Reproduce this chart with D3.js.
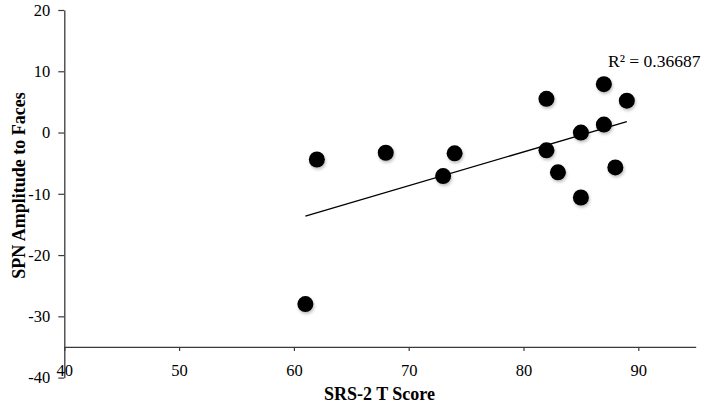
<!DOCTYPE html>
<html>
<head>
<meta charset="utf-8">
<script src="https://cdn.jsdelivr.net/npm/d3@7"></script>
<style>
  html, body { margin: 0; padding: 0; background: #fff; }
  svg { display: block; }
</style>
</head>
<body>
<svg id="chart" width="707" height="405"></svg>
<script>
// ---- Data ----
const srsScores = [61, 62, 68, 73, 74, 82, 82, 83, 85, 85, 87, 87, 88, 89];
const spnAmplitudes = [-28.0, -4.4, -3.3, -7.1, -3.4, 5.5, -2.9, -6.5, 0.0, -10.6, 7.9, 1.3, -5.7, 5.2];
const xTicks = [40, 50, 60, 70, 80, 90];
const xTickLabels = ["40", "50", "60", "70", "80", "90"];
const yTicks = [20, 10, 0, -10, -20, -30, -40];
const yTickLabels = ["20", "10", "0", "-10", "-20", "-30", "-40"];
const xTitle = "SRS-2 T Score";
const yTitle = "SPN Amplitude to Faces";
const r2Label = "R² = 0.36687";

// ---- Layout ----
const svg = d3.select("#chart");
const x = d3.scaleLinear().domain([40, 95]).range([64.3, 695.7]);
const y = d3.scaleLinear().domain([-40, 20]).range([377.6, 10]);
const font = "'Liberation Serif', 'Times New Roman', serif";
const axisColor = "#3a3a3a";

const defs = svg.append("defs");
const f = defs.append("filter").attr("id", "shadow")
  .attr("x", "-50%").attr("y", "-50%").attr("width", "200%").attr("height", "200%");
f.append("feDropShadow").attr("dx", 1).attr("dy", 2).attr("stdDeviation", 1.5)
  .attr("flood-color", "#000").attr("flood-opacity", 0.25);

// Y axis
const yAxis = d3.axisLeft(y).tickValues(yTicks)
  .tickFormat((d, i) => yTickLabels[yTicks.indexOf(d)])
  .tickSize(6).tickSizeOuter(0).tickPadding(8);
const gy = svg.append("g").attr("transform", `translate(${x(40)},0)`).call(yAxis);

// X axis crossing at -35
const xAxis = d3.axisBottom(x).tickValues(xTicks)
  .tickFormat((d) => xTickLabels[xTicks.indexOf(d)])
  .tickSize(4).tickSizeOuter(0).tickPadding(13);
const gx = svg.append("g").attr("transform", `translate(0,${y(-35)})`).call(xAxis);

[gx, gy].forEach(g => {
  g.select(".domain").attr("stroke", axisColor).attr("stroke-width", 1.3);
  g.selectAll(".tick line").attr("stroke", axisColor).attr("stroke-width", 1.2);
  g.selectAll(".tick text").attr("fill", "#000")
    .style("font-family", font).style("font-size", "16.5px");
});

// Trendline (least squares fit of the data)
const n = srsScores.length;
const mx = d3.mean(srsScores), my = d3.mean(spnAmplitudes);
let sxy = 0, sxx = 0;
for (let i = 0; i < n; i++) {
  sxy += (srsScores[i] - mx) * (spnAmplitudes[i] - my);
  sxx += (srsScores[i] - mx) ** 2;
}
const slope = sxy / sxx, intercept = my - slope * mx;
const [x0, x1] = d3.extent(srsScores);
svg.append("line")
  .attr("x1", x(x0)).attr("y1", y(intercept + slope * x0))
  .attr("x2", x(x1)).attr("y2", y(intercept + slope * x1))
  .attr("stroke", "#000").attr("stroke-width", 1.3);

// Points
const pts = srsScores.map((s, i) => ({ s, v: spnAmplitudes[i] }));
svg.append("g").selectAll("circle").data(pts).enter().append("circle")
  .attr("cx", d => x(d.s)).attr("cy", d => y(d.v)).attr("r", 8)
  .attr("fill", "#000").attr("filter", "url(#shadow)");

// R² label
svg.append("text").attr("x", 608).attr("y", 66.5)
  .style("font-family", font).style("font-size", "17.5px").attr("fill", "#000")
  .text(r2Label);

// Axis titles
svg.append("text").attr("x", 379.5).attr("y", 400).attr("text-anchor", "middle")
  .style("font-family", font).style("font-size", "18px").style("font-weight", "bold")
  .text(xTitle);
svg.append("text").attr("transform", "translate(25,185.5) rotate(-90)").attr("text-anchor", "middle")
  .style("font-family", font).style("font-size", "18px").style("font-weight", "bold")
  .text(yTitle);
</script>
</body>
</html>
